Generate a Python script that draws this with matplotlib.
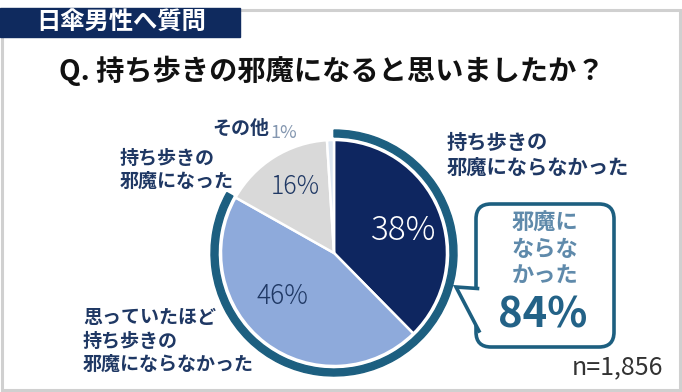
"""
Pie chart: did men carrying parasols find them a hindrance?
"""

import matplotlib.pyplot as plt
from matplotlib.patches import Rectangle, Wedge, FancyBboxPatch, Polygon

plt.rcParams["font.family"] = ["Noto Sans CJK JP", "DejaVu Sans"]

# Data
labels = ["持ち歩きの\n邪魔にならなかった", "思っていたほど\n持ち歩きの\n邪魔にならなかった",
          "持ち歩きの\n邪魔になった", "その他"]
values = [38, 46, 16, 1]
pct_text = ["38%", "46%", "16%", "1%"]
colors = ["#0e2660", "#8eaadb", "#d9d9d9", "#dce6f2"]
summary_label = "邪魔に\nならな\nかった"
summary_value = "84%"
sample_size = "n=1,856"

W, H = 682, 392
NAVY = "#1f3864"
TEAL = "#1d5f80"


def Y(y):
    # pixel row (from top) -> data y
    return H - y


fig = plt.figure(figsize=(W / 100, H / 100), dpi=100)
ax = fig.add_axes([0, 0, 1, 1])
ax.set_xlim(0, W)
ax.set_ylim(0, H)
ax.set_aspect("equal")
ax.axis("off")

# Frame and header
ax.add_patch(Rectangle((1.5, Y(389.5)), 678, 379.5, fill=False,
                       edgecolor="#d0d0d0", linewidth=2.2))
ax.add_patch(Rectangle((0, Y(37)), 240, 29, color="#0f2a5e", zorder=2))
ax.text(121, Y(22.5), "日傘男性へ質問", color="white", fontsize=17.5,
        fontweight="bold", ha="center", va="center", zorder=3)

ax.text(332, Y(71), "Q. 持ち歩きの邪魔になると思いましたか？", fontsize=20.3,
        fontweight="bold", color="#111111", ha="center", va="center")

# Pie
cx, cy, r = 334, Y(253), 113
ax.pie(values, colors=colors, startangle=90, counterclock=False,
       center=(cx, cy), radius=r, frame=True,
       wedgeprops=dict(edgecolor="white", linewidth=1.8))
ax.set_xlim(0, W)
ax.set_ylim(0, H)
ax.axis("off")

# Ring around the "not a hindrance" slices
share = (values[0] + values[1]) / sum(values)
ax.add_patch(Wedge((cx, cy), 123, 90 - 360 * share, 90, width=7,
                   color=TEAL, zorder=3))

# Percentages inside slices
ax.text(404, Y(231), pct_text[0], color="white", fontsize=24,
        ha="center", va="center", fontweight="light")
ax.text(282, Y(296), pct_text[1], color=NAVY, fontsize=19,
        ha="center", va="center", fontweight="light")
ax.text(295, Y(187), pct_text[2], color=NAVY, fontsize=18,
        ha="center", va="center", fontweight="light")
ax.text(270, Y(133), pct_text[3], color="#8497b0", fontsize=13,
        ha="left", va="center")

# Category labels
ax.text(447, Y(155), labels[0], color=NAVY, fontsize=14.6, fontweight="bold",
        ha="left", va="center", linespacing=1.22)
ax.text(83, Y(341), labels[1], color=NAVY, fontsize=13.7, fontweight="bold",
        ha="left", va="center", linespacing=1.3)
ax.text(120, Y(170), labels[2], color=NAVY, fontsize=13.7, fontweight="bold",
        ha="left", va="center", linespacing=1.3)
ax.text(212, Y(128), labels[3], color=NAVY, fontsize=13.7, fontweight="bold",
        ha="left", va="center")

# Callout box
ax.add_patch(FancyBboxPatch((476, Y(347)), 138, 143,
                            boxstyle="round,pad=0,rounding_size=15",
                            facecolor="white", edgecolor=TEAL, linewidth=2.6,
                            zorder=4))
ax.add_patch(Polygon([(479, Y(289)), (456, Y(287)), (479, Y(331))],
                     closed=True, facecolor="white", edgecolor="none", zorder=5))
ax.plot([477.5, 456, 479], [Y(288.5), Y(287), Y(331)], color=TEAL,
        linewidth=2.6, solid_joinstyle="miter", zorder=6)
ax.text(545, Y(250), summary_label, color="#5f8aab", fontsize=16,
        fontweight="bold", ha="center", va="center", linespacing=1.18, zorder=7)
ax.text(543, Y(315), summary_value, color="#236287", fontsize=30,
        fontweight="bold", ha="center", va="center", zorder=7)

ax.text(663, Y(367), sample_size, color="#333333", fontsize=18,
        ha="right", va="center")

plt.savefig("out.png", dpi=100)
plt.close()
